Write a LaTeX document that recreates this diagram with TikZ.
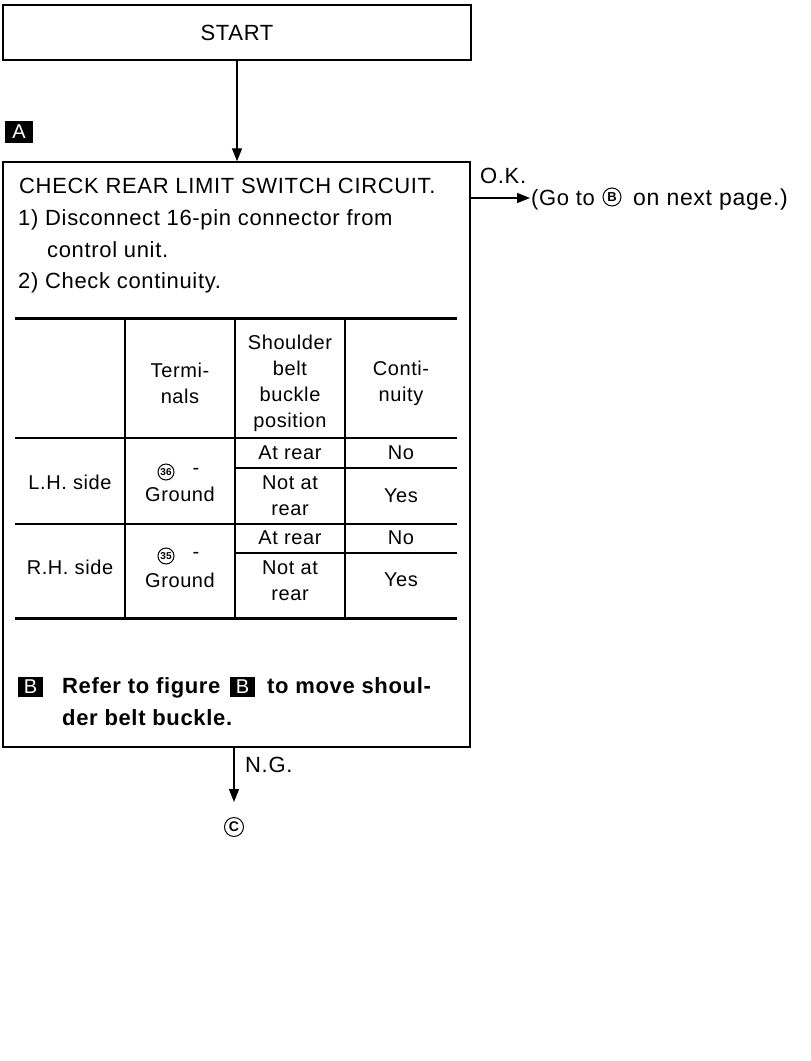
\documentclass[tikz,border=0pt]{standalone}
\usepackage{fontspec}
\setmainfont{Liberation Sans}[LetterSpace=3]
\usetikzlibrary{arrows.meta}
\tikzset{
  box/.style={draw, line width=1.4pt, inner sep=0pt},
  txt/.style={anchor=base west, inner sep=0pt, font=\fontsize{22}{26}\selectfont},
  btxt/.style={anchor=base west, inner sep=0pt, font=\fontsize{22}{26}\selectfont\bfseries},
  tab/.style={align=center, inner sep=0pt, font=\fontsize{20}{26}\selectfont},
  blk/.style={fill=black, text=white, inner sep=0pt, minimum width=25pt, minimum height=20pt, font=\fontsize{20}{20}\selectfont},
  circ/.style={draw, circle, line width=1pt, inner sep=0pt, minimum size=#1, font=\fontsize{12}{12}\selectfont\bfseries},
  arr/.style={-{Triangle[length=13pt,width=10pt]}, line width=1.3pt},
  thin/.style={line width=1.4pt},
  thick/.style={line width=3pt},
}
\begin{document}
\begin{tikzpicture}[x=1pt,y=-1pt]
\useasboundingbox (0,0) rectangle (811,1061);
% START box
\node[box, minimum width=468pt, minimum height=55pt, font=\fontsize{22}{26}\selectfont] (start) at (237,32.5) {START};
% main box
\node[box, minimum width=467pt, minimum height=585pt] (main) at (236.5,454.5) {};
\draw[arr] (start.south) -- (start.south |- main.north);
\node[blk, minimum width=28pt, minimum height=22pt] (lblA) at (19,132) {A};
% main text
\node[txt] (t1) at (19,193) {CHECK REAR LIMIT SWITCH CIRCUIT.};
\node[txt] (t2) at (18,225) {1) Disconnect 16-pin connector from};
\node[txt] (t3) at (47,257) {control unit.};
\node[txt] (t4) at (18,288) {2) Check continuity.};
% table lines
\draw[thick] (15,318) -- (457,318);
\draw[thin] (125,318) -- (125,618);
\draw[thin] (235,318) -- (235,618);
\draw[thin] (345,318) -- (345,618);
\draw[thin] (15,438) -- (457,438);
\draw[thin] (235,468) -- (457,468);
\draw[thin] (15,524) -- (457,524);
\draw[thin] (235,553) -- (457,553);
\draw[thick] (15,618) -- (457,618);
% table header
\node[tab] (h2) at (180,383) {Termi-\\nals};
\node[tab] (h3) at (290,383) {Shoulder\\belt\\buckle\\position};
\node[tab] (h4) at (401,383) {Conti-\\nuity};
% LH rows
\node[tab] (lh) at (70,482) {L.H. side};
\node[circ=16pt] (c36) at (166,472) {\fontsize{10}{10}\selectfont 36};
\node[tab] (d36) at (196,471) {-};
\node[tab] (g36) at (180,494) {Ground};
\node[tab] (lr1) at (290,453) {At rear};
\node[tab] (ln1) at (401,453) {No};
\node[tab] (lr2) at (290,496) {Not at\\rear};
\node[tab] (ly2) at (401,496) {Yes};
% RH rows
\node[tab] (rh) at (70,567) {R.H. side};
\node[circ=16pt] (c35) at (166,556) {\fontsize{10}{10}\selectfont 35};
\node[tab] (d35) at (196,555) {-};
\node[tab] (g35) at (180,580) {Ground};
\node[tab] (rr1) at (290,538) {At rear};
\node[tab] (rn1) at (401,538) {No};
\node[tab] (rr2) at (290,581) {Not at\\rear};
\node[tab] (ry2) at (401,580) {Yes};
% bottom bold text
\node[blk] (lblB1) at (30.5,687) {B};
\node[btxt] (b1) at (62,693) {Refer to figure};
\node[blk] (lblB2) at (242.5,687) {B};
\node[btxt] (b2) at (267,693) {to move shoul-};
\node[btxt] (b3) at (62,725) {der belt buckle.};
% O.K. branch
\coordinate (okend) at (530,198);
\draw[arr] (main.east |- okend) -- (okend);
\node[txt] (ok) at (480,183) {O.K.};
\node[txt] (go1) at (531,205) {(Go to};
\node[circ=18pt, font=\fontsize{13}{13}\selectfont\bfseries] (cB) at (612,197) {B};
\node[txt, font=\fontsize{23}{26}\selectfont] (go2) at (633,205) {on next page.)};
% N.G. branch
\coordinate (ngstart) at (234,747);
\node[circ=19pt, font=\fontsize{14}{14}\selectfont\bfseries] (cC) at (234,827) {C};
\draw[arr] (ngstart) -- (234,802);
\node[txt] (ng) at (245,772) {N.G.};
\end{tikzpicture}
\end{document}
